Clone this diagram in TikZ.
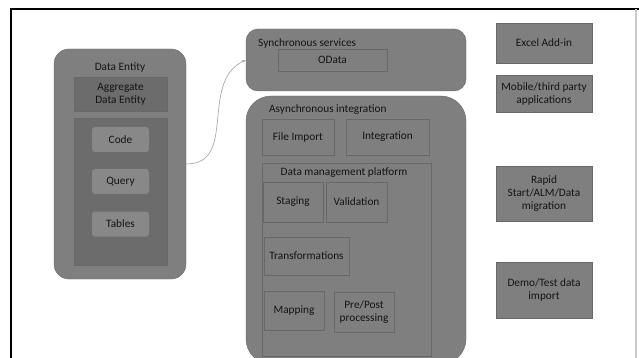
\documentclass[tikz,border=0pt]{standalone}
\usepackage{fontspec}
\setmainfont{Carlito}
\usepackage{tikz}
\usetikzlibrary{arrows.meta}
\definecolor{EntityGray}{RGB}{127,127,127}
\definecolor{EntityDark}{RGB}{108,108,108}
\definecolor{EntityLight}{RGB}{136,136,136}
\definecolor{EdgeGray}{RGB}{104,104,104}
\definecolor{TextGray}{RGB}{20,20,20}
\definecolor{LinkGray}{RGB}{170,170,170}

\begin{document}
\begin{tikzpicture}[x=1pt,y=-1pt,font=\fontsize{11.3}{13}\selectfont,text=TextGray,
  blk/.style n args={3}{rectangle,draw=EdgeGray,fill=#1,minimum width=#2pt,minimum height=#3pt,inner sep=1pt,align=center},
  box/.style 2 args={blk={EntityGray}{#1}{#2}},
  ttl/.style={inner sep=0pt}]
\useasboundingbox (0,0) rectangle (639,358);
\clip (0,0) rectangle (639,358);
\draw[line width=1.5pt] (11,359) -- (11,9) -- (640,9);
\draw[LinkGray!60,line width=1.5pt] (636,9) -- (636,359);
% data entity
\node[blk={EntityGray}{132}{230},rounded corners=15pt](de) at(120,164) {};
\node[ttl](deT) at(120,68) {Data Entity};
\node[blk={EntityDark}{93}{34}](agg) at(120.5,94) {Aggregate\\Data Entity};
\node[blk={EntityDark}{93}{147}](inner) at(120.5,191.5) {};
\foreach \y/\t/\n in %
{139.5/Code/code,181.5/Query/query,224/Tables/tables} {
   \node[blk={EntityLight}{57}{25},draw=none,rounded corners=3pt](\n) at(120.5,\y) {\t};
}
% synchronous
\node[blk={EntityGray}{220}{62},rounded corners=12pt](sync) at(356,60) {};
\node[ttl,anchor=west](syncT) at(258,43) {Synchronous services};
\node[box={109}{22}](odata) at(332.5,60) {OData};
% asynchronous
\node[blk={EntityGray}{220}{268},rounded corners=25pt](async) at(356,230) {};
\node[ttl,anchor=west](asyncT) at(269,110) {Asynchronous integration};
\node[box={72}{36}](fimp) at(298,137) {File Import};
\node[box={83}{36}](integ) at(387.5,137) {Integration};
\node[box={169}{193}](dmp) at(346.5,259.5) {};
\node[ttl](dmpT) at(344,173) {Data management platform};
\node[box={60}{40}](stag) at(293,202) {Staging};
\node[box={61}{40}](valid) at(356.5,202) {Validation};
\node[box={85}{38}](trans) at(306.5,256) {Transformations};
\node[box={60}{39}](map) at(294,310.5) {Mapping};
\node[box={60}{40}](prepost) at(364,312) {Pre/Post\\processing};
% consumers
\node[box={96}{40}](excel) at(544,43) {Excel Add-in};
\node[box={96}{37}](mobile) at(544,93.5) {Mobile/third party\\applications};
\node[box={96}{55}](rapid) at(544,193.5) {Rapid\\Start/ALM/Data\\migration};
\node[box={96}{56}](demo) at(544,290) {Demo/Test data\\import};
\draw[LinkGray,line width=0.7pt,-{Stealth[length=4pt,width=3pt]}] (de.east) to[out=0,in=205,looseness=1.1] (sync.west);
\end{tikzpicture}
\end{document}
